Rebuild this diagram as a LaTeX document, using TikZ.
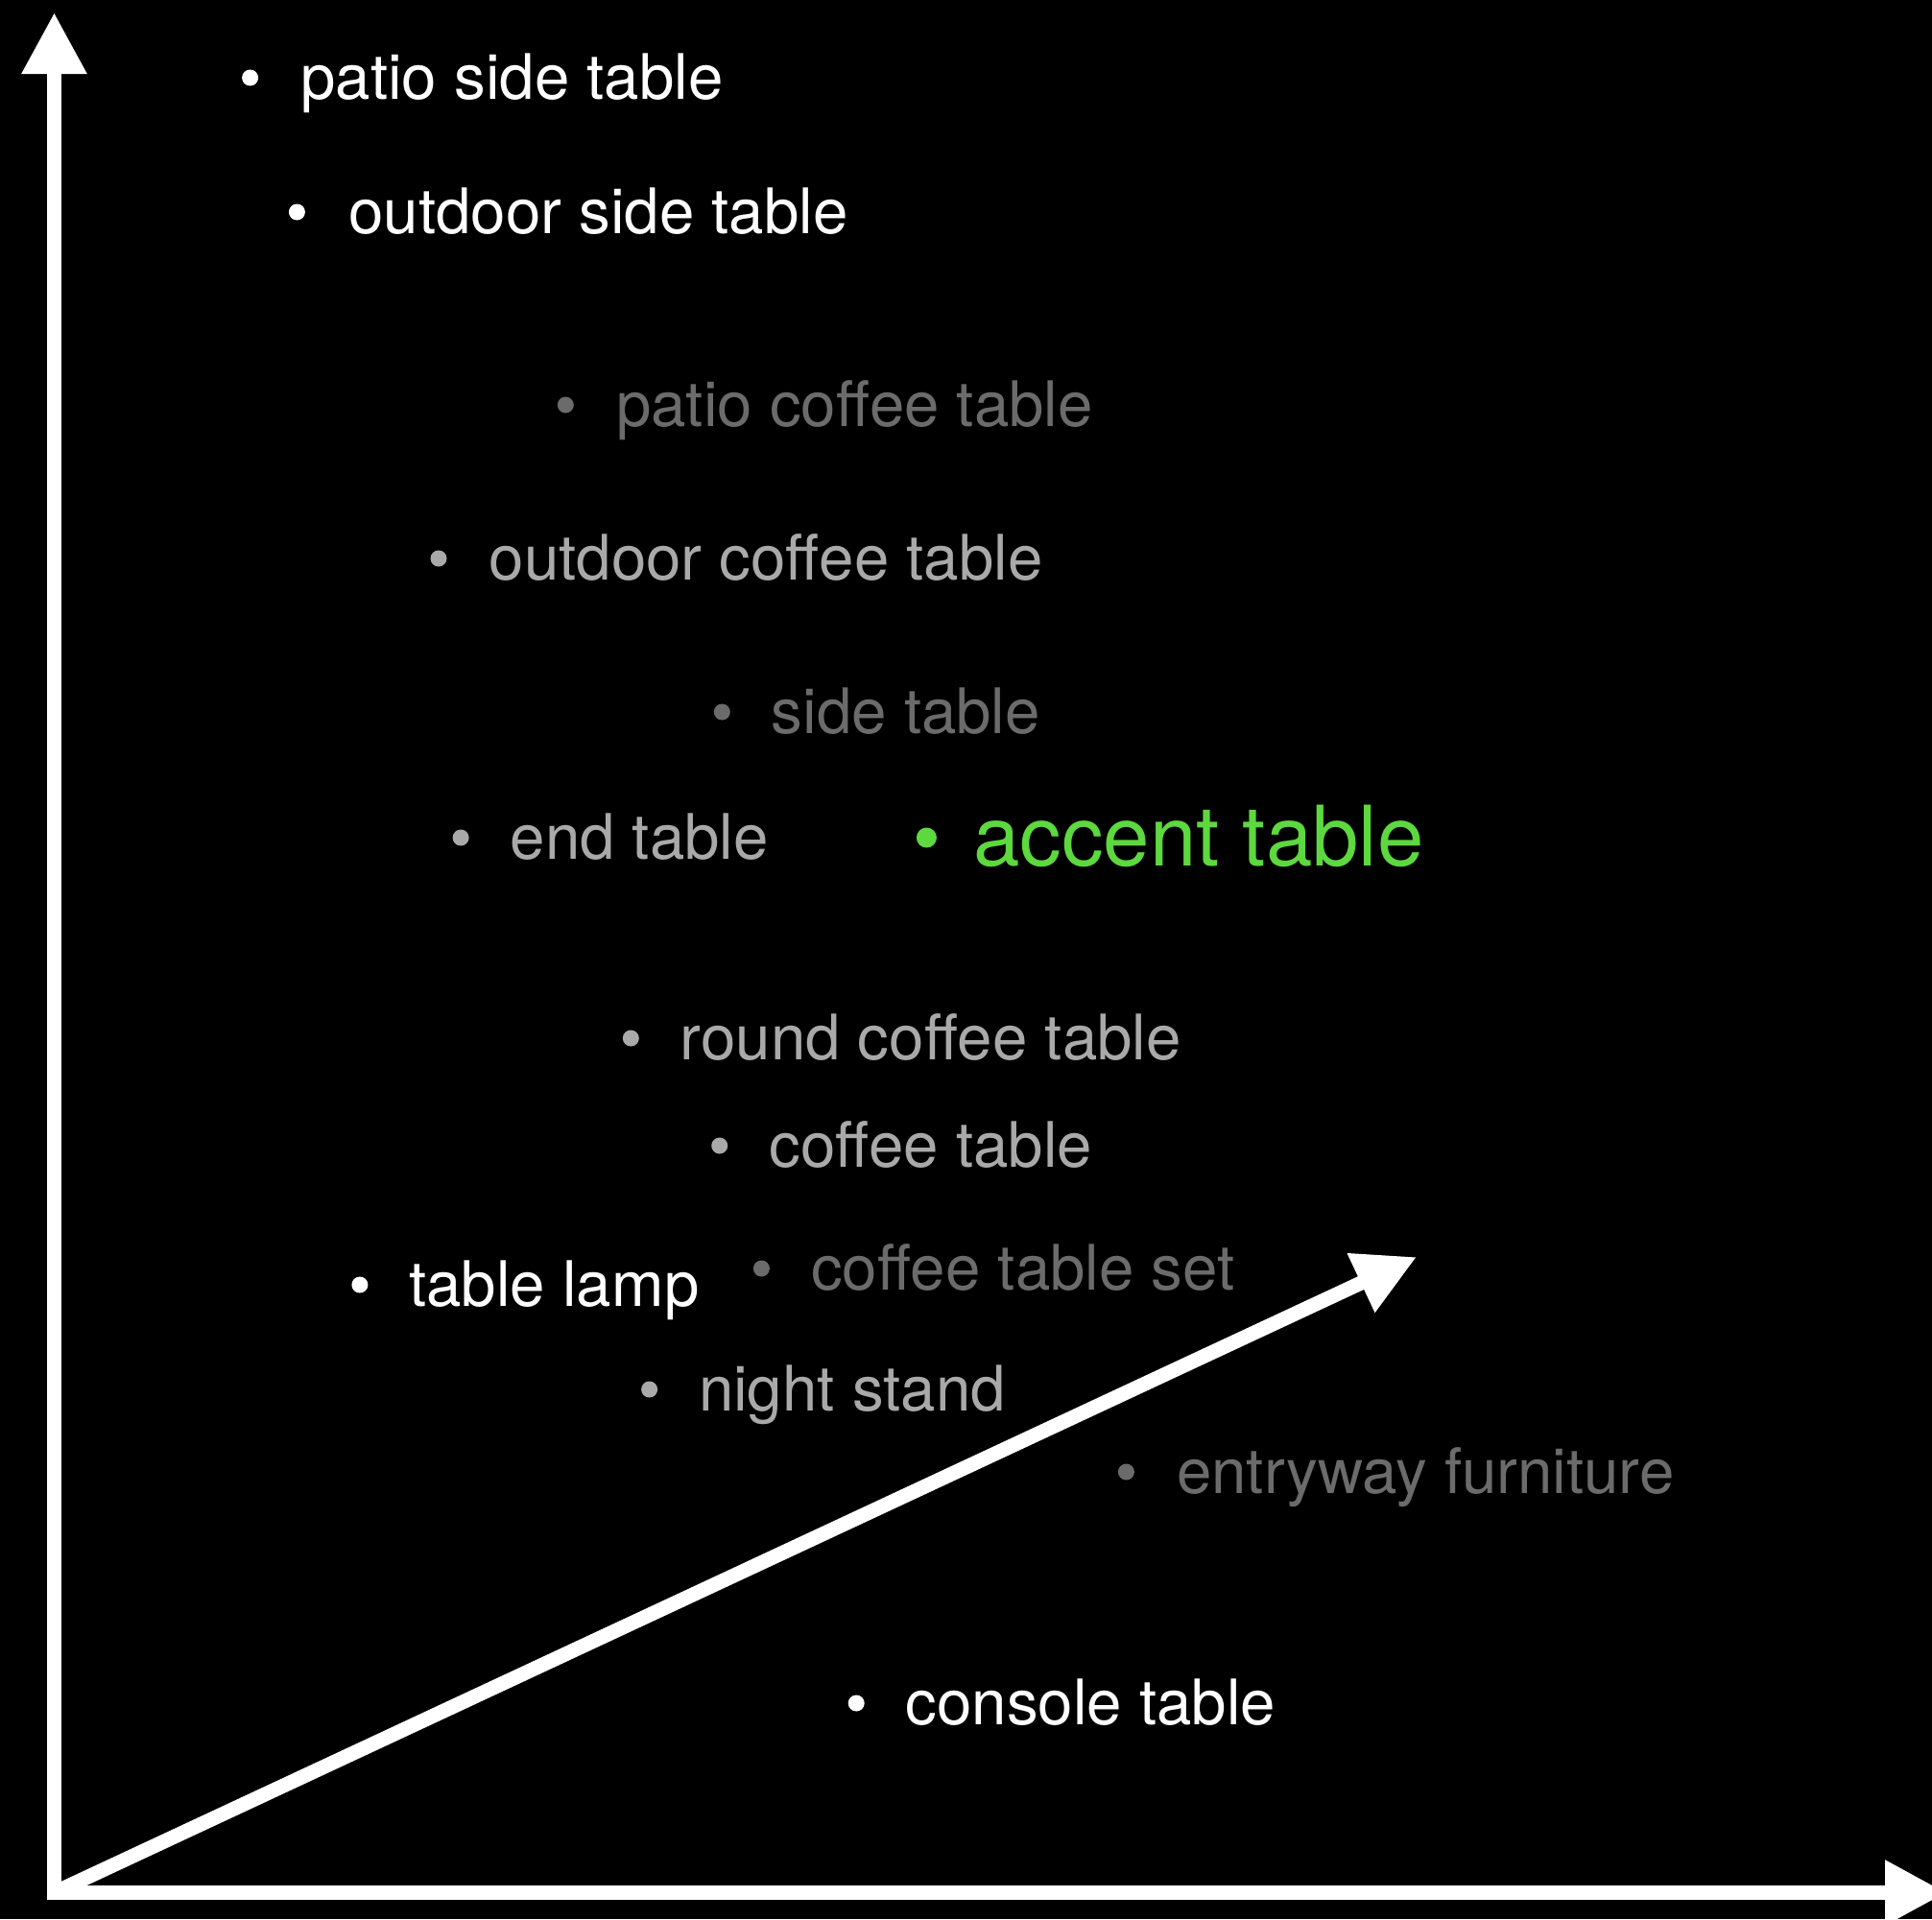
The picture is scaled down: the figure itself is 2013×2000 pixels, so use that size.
\documentclass[tikz,border=0pt]{standalone}
\usepackage{fontspec}
\setmainfont{TeX Gyre Heros}
\usetikzlibrary{arrows.meta}
\definecolor{litegray}{HTML}{A9A9A9}
\definecolor{dimgray}{HTML}{6B6B6B}
\definecolor{accentgreen}{HTML}{5DD83F}
\tikzset{
  bigtip/.tip={Triangle[length=64pt,width=64pt]},
  axisline/.style={draw=white, line width=15pt, line join=miter},
  itemtext/.style={anchor=base west, inner sep=0pt, font=\fontsize{65.4}{78}\selectfont},
  bigtext/.style={anchor=base west, inner sep=0pt, font=\fontsize{87}{100}\selectfont},
  bulletdot/.style={circle, inner sep=0pt, minimum size=17pt},
  bigdot/.style={circle, inner sep=0pt, minimum size=21pt},
}
\begin{document}
\begin{tikzpicture}[x=1pt,y=-1pt]
\fill[black] (0,0) rectangle (2013,2000);
\useasboundingbox (0,0) rectangle (2013,2000);
% axes
\coordinate (O) at (56.5,1972.5);
\coordinate (ytip) at (56.5,13);
\coordinate (xtip) at (2028,1972.5);
\coordinate (dtip) at (1476,1310);
\draw[axisline, {bigtip}-{bigtip}] (ytip) -- (O) -- (xtip);
\draw[axisline, -{bigtip}] (O) -- (dtip);
% items
\node[bulletdot, fill=white] (b1) at (260.6,81) {};
\node[itemtext, text=white] (t1) at (313.3,103) {patio side table};
\node[bulletdot, fill=white] (b2) at (309.4,221) {};
\node[itemtext, text=white] (t2) at (363.3,243) {outdoor side table};
\node[bulletdot, fill=dimgray] (b3) at (589.3,422) {};
\node[itemtext, text=dimgray] (t3) at (641.9,444) {patio coffee table};
\node[bulletdot, fill=litegray] (b4) at (457.0,582) {};
\node[itemtext, text=litegray] (t4) at (509.7,604) {outdoor coffee table};
\node[bulletdot, fill=dimgray] (b5) at (752.3,742) {};
\node[itemtext, text=dimgray] (t5) at (803.7,764) {side table};
\node[bulletdot, fill=litegray] (b6) at (480.1,873) {};
\node[itemtext, text=litegray] (t6) at (531.5,895) {end table};
\node[bigdot, fill=accentgreen] (b7) at (965.4,873) {};
\node[bigtext, text=accentgreen] (t7) at (1014.2,902) {accent table};
\node[bulletdot, fill=litegray] (b8) at (657.3,1082) {};
\node[itemtext, text=litegray] (t8) at (708.7,1104) {round coffee table};
\node[bulletdot, fill=litegray] (b9) at (749.7,1194) {};
\node[itemtext, text=litegray] (t9) at (801.1,1216) {coffee table};
\node[bulletdot, fill=white] (b10) at (374.9,1339) {};
\node[itemtext, text=white] (t10) at (426.2,1361) {table lamp};
\node[bulletdot, fill=dimgray] (b11) at (793.4,1322) {};
\node[itemtext, text=dimgray] (t11) at (844.8,1344) {coffee table set};
\node[bulletdot, fill=litegray] (b12) at (676.6,1448) {};
\node[itemtext, text=litegray] (t12) at (727.9,1470) {night stand};
\node[bulletdot, fill=dimgray] (b13) at (1173.4,1534) {};
\node[itemtext, text=dimgray] (t13) at (1226.0,1556) {entryway furniture};
\node[bulletdot, fill=white] (b14) at (892.2,1775) {};
\node[itemtext, text=white] (t14) at (943.6,1797) {console table};
\end{tikzpicture}
\end{document}
